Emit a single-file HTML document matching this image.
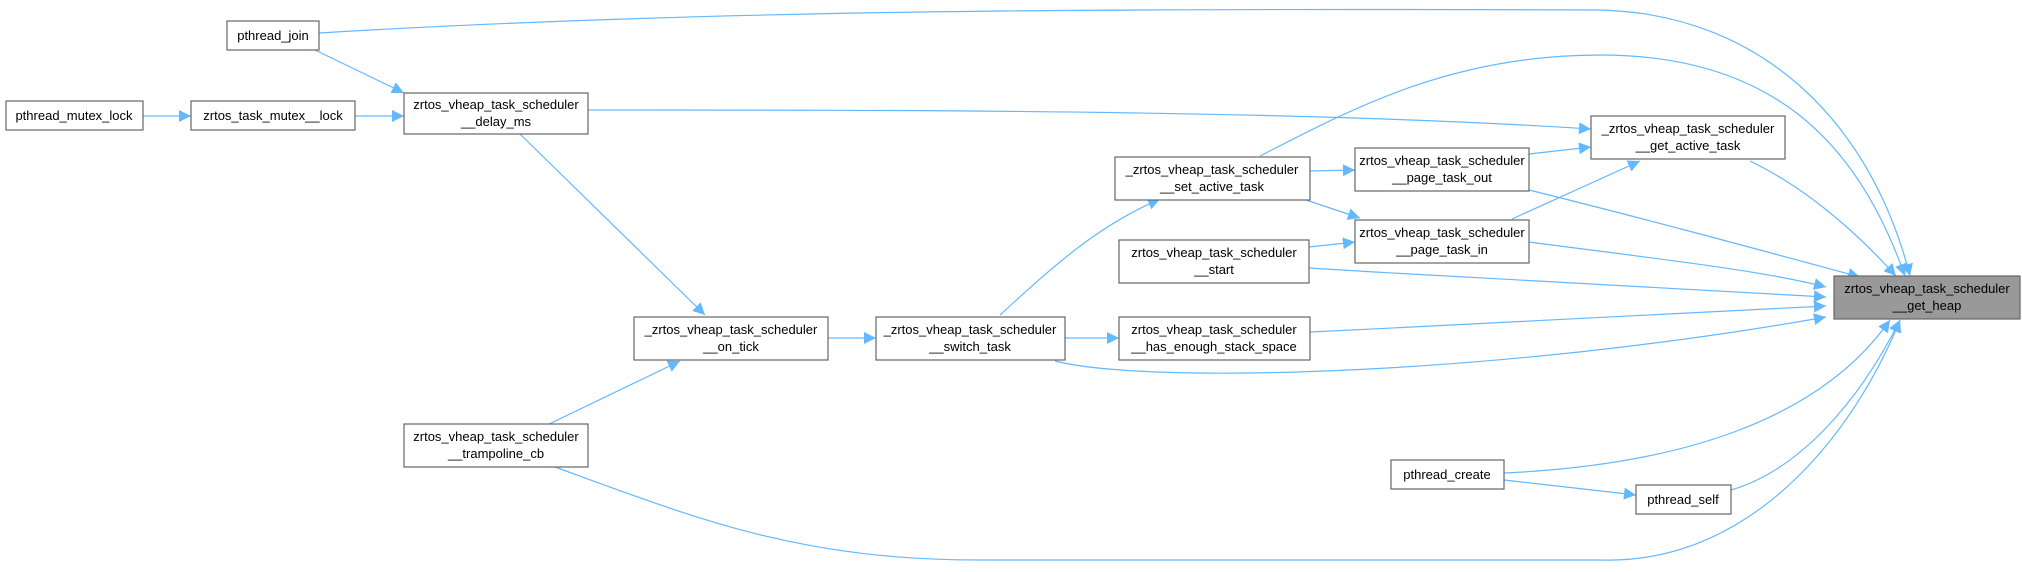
<!DOCTYPE html>
<html><head><meta charset="utf-8"><style>
html,body{margin:0;padding:0;background:#fff;width:2022px;height:572px;overflow:hidden}
svg text{font-family:"Liberation Sans",Arial,sans-serif;font-size:13px;fill:#000}
</style></head><body>
<svg width="2022" height="572" viewBox="0 0 2022 572" xmlns="http://www.w3.org/2000/svg">
<defs><marker id="a" viewBox="0 0 10 10" refX="10" refY="5" markerWidth="14" markerHeight="12" markerUnits="userSpaceOnUse" orient="auto"><path d="M0,0 L10,5 L0,10 z" fill="#63b8ff"/></marker></defs>
<g fill="none" stroke="#63b8ff" stroke-width="1.2" marker-end="url(#a)">
<path d="M319,33 C700,10 1100,8 1600,10 C1760,14 1870,120 1910,276"/>
<path d="M315,50 L404,93"/>
<path d="M143,116 L191,116"/>
<path d="M355,116 L404,116"/>
<path d="M588,110 C900,110 1300,110 1591,129"/>
<path d="M520,134 L705,315"/>
<path d="M828,338 L876,338"/>
<path d="M545,426 L680,361"/>
<path d="M555,467 C700,520 800,560 980,560 C1300,560 1500,560 1600,560 C1760,565 1860,420 1900,320"/>
<path d="M1000,315 C1060,260 1100,225 1160,199"/>
<path d="M1065,338 L1119,338"/>
<path d="M1055,361 C1150,385 1500,375 1826,317"/>
<path d="M1260,156 C1350,110 1450,55 1600,55 C1780,55 1860,150 1905,276"/>
<path d="M1310,171 L1355,170"/>
<path d="M1303,199 L1360,218"/>
<path d="M1309,247 L1355,242"/>
<path d="M1309,268 C1500,280 1700,290 1826,297"/>
<path d="M1310,332 C1500,323 1700,312 1826,306"/>
<path d="M1529,154 L1591,147"/>
<path d="M1529,190 C1650,220 1760,250 1860,277"/>
<path d="M1512,219 L1640,161"/>
<path d="M1529,242 C1650,258 1760,270 1826,287"/>
<path d="M1750,161 C1800,185 1850,225 1896,276"/>
<path d="M1504,473 C1680,465 1820,420 1890,320"/>
<path d="M1504,480 L1636,495"/>
<path d="M1731,490 C1800,470 1860,400 1900,320"/>
</g>
<g stroke="#666" stroke-width="1.2" fill="#fff">
<rect x="227" y="21" width="92" height="29"/>
<rect x="6" y="101" width="137" height="29"/>
<rect x="191" y="101" width="164" height="29"/>
<rect x="404" y="93" width="184" height="41"/>
<rect x="634" y="317" width="194" height="43"/>
<rect x="404" y="424" width="184" height="43"/>
<rect x="876" y="317" width="189" height="43"/>
<rect x="1115" y="157" width="195" height="43"/>
<rect x="1119" y="240" width="190" height="43"/>
<rect x="1119" y="317" width="191" height="43"/>
<rect x="1355" y="148" width="174" height="43"/>
<rect x="1355" y="220" width="174" height="43"/>
<rect x="1591" y="116" width="194" height="43"/>
<rect x="1834" y="276" width="186" height="43" fill="#999"/>
<rect x="1391" y="460" width="113" height="29"/>
<rect x="1636" y="485" width="95" height="29"/>
</g>
<g text-anchor="middle">
<text x="273" y="40">pthread_join</text>
<text x="74" y="120">pthread_mutex_lock</text>
<text x="273" y="120">zrtos_task_mutex__lock</text>
<text x="496" y="109">zrtos_vheap_task_scheduler</text><text x="496" y="126">__delay_ms</text>
<text x="731" y="334">_zrtos_vheap_task_scheduler</text><text x="731" y="351">__on_tick</text>
<text x="496" y="441">zrtos_vheap_task_scheduler</text><text x="496" y="458">__trampoline_cb</text>
<text x="970" y="334">_zrtos_vheap_task_scheduler</text><text x="970" y="351">__switch_task</text>
<text x="1212" y="174">_zrtos_vheap_task_scheduler</text><text x="1212" y="191">__set_active_task</text>
<text x="1214" y="257">zrtos_vheap_task_scheduler</text><text x="1214" y="274">__start</text>
<text x="1214" y="334">zrtos_vheap_task_scheduler</text><text x="1214" y="351">__has_enough_stack_space</text>
<text x="1442" y="165">zrtos_vheap_task_scheduler</text><text x="1442" y="182">__page_task_out</text>
<text x="1442" y="237">zrtos_vheap_task_scheduler</text><text x="1442" y="254">__page_task_in</text>
<text x="1688" y="133">_zrtos_vheap_task_scheduler</text><text x="1688" y="150">__get_active_task</text>
<text x="1927" y="293">zrtos_vheap_task_scheduler</text><text x="1927" y="310">__get_heap</text>
<text x="1447" y="479">pthread_create</text>
<text x="1683" y="504">pthread_self</text>
</g>
</svg>
</body></html>
